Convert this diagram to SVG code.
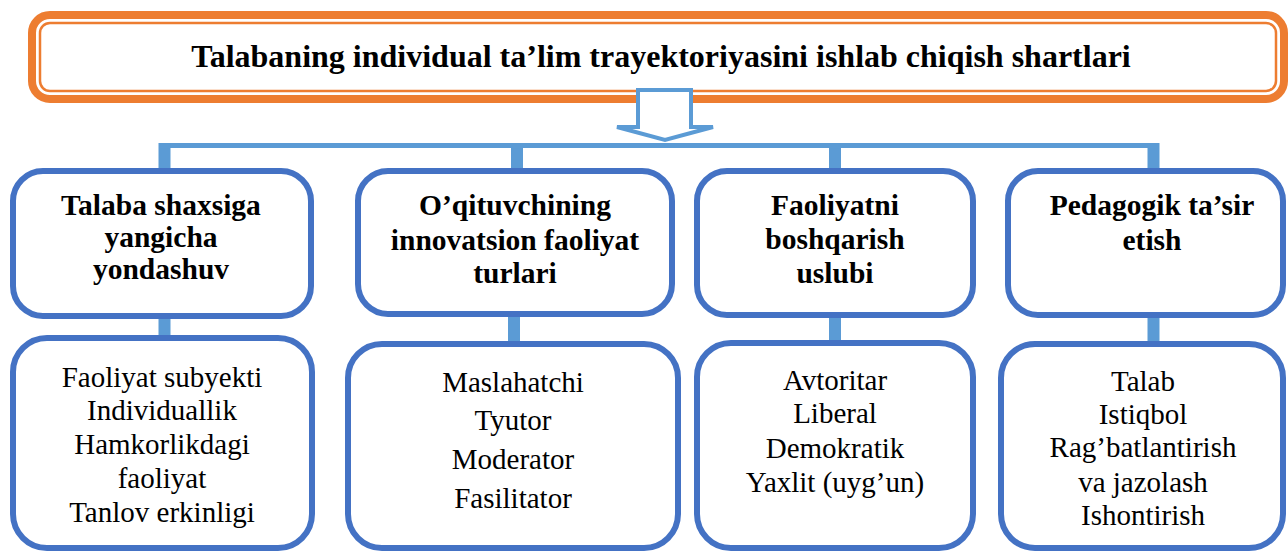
<svg xmlns="http://www.w3.org/2000/svg" width="1288" height="551" viewBox="0 0 1288 551">
<style>
.box{fill:#fff;stroke:#4472C4;stroke-width:6}
.h{font-family:"Liberation Serif","Times New Roman",serif;font-weight:bold;font-size:29.5px;text-anchor:middle;fill:#000}
.t{font-family:"Liberation Serif","Times New Roman",serif;font-size:29px;text-anchor:middle;fill:#000}
.c{stroke:#5B9BD5;fill:none}
</style>
<rect width="1288" height="551" fill="#fff"/>
<g id="title">
<rect x="32" y="15" width="1252" height="84" rx="18" fill="#fff" stroke="#ED7D31" stroke-width="8"/>
<rect x="40" y="23" width="1236" height="68" rx="10" fill="none" stroke="#ED7D31" stroke-width="2.5"/>
<text x="661" y="67" class="h" style="font-size:32px">Talabaning individual ta’lim trayektoriyasini ishlab chiqish shartlari</text>
</g>
<g id="connectors">
<path d="M638,90 H691 V127 H713 L665,140 L617,127 H638 Z" fill="#fff" stroke="#5B9BD5" stroke-width="4" stroke-linejoin="miter"/>
<path class="c" d="M164,145.5 H1153.5" stroke-width="5"/>
<path class="c" d="M164.5,143 V171 M517,143 V171 M835,143 V171 M1153.5,143 V171" stroke-width="12"/>
<path class="c" d="M164.5,316 V340 M514,314 V346 M835,315 V345 M1153.5,315 V346" stroke-width="12"/>
</g>
<g id="n1">
<rect class="box" x="13" y="171" width="298" height="145" rx="30"/>
<text class="h" x="161" y="215">Talaba shaxsiga</text>
<text class="h" x="161" y="247">yangicha</text>
<text class="h" x="161" y="279">yondashuv</text>
</g>
<g id="n2">
<rect class="box" x="358" y="171" width="314" height="143" rx="30"/>
<text class="h" x="515" y="215">O’qituvchining</text>
<text class="h" x="515" y="250">innovatsion faoliyat</text>
<text class="h" x="515" y="283">turlari</text>
</g>
<g id="n3">
<rect class="box" x="697" y="171" width="276" height="144" rx="30"/>
<text class="h" x="835" y="215">Faoliyatni</text>
<text class="h" x="835" y="249">boshqarish</text>
<text class="h" x="835" y="283">uslubi</text>
</g>
<g id="n4">
<rect class="box" x="1008" y="171" width="275" height="144" rx="30"/>
<text class="h" x="1152" y="215">Pedagogik ta’sir</text>
<text class="h" x="1152" y="250">etish</text>
</g>
<g id="n1b">
<rect class="box" x="13" y="338" width="299" height="210" rx="34"/>
<text class="t" x="162" y="387">Faoliyat subyekti</text>
<text class="t" x="162" y="420">Individuallik</text>
<text class="t" x="162" y="454">Hamkorlikdagi</text>
<text class="t" x="162" y="488">faoliyat</text>
<text class="t" x="162" y="522">Tanlov erkinligi</text>
</g>
<g id="n2b">
<rect class="box" x="348" y="344" width="330" height="204" rx="34"/>
<text class="t" x="513" y="392">Maslahatchi</text>
<text class="t" x="513" y="430">Tyutor</text>
<text class="t" x="513" y="469">Moderator</text>
<text class="t" x="513" y="508">Fasilitator</text>
</g>
<g id="n3b">
<rect class="box" x="697" y="343" width="276" height="205" rx="34"/>
<text class="t" x="835" y="390">Avtoritar</text>
<text class="t" x="835" y="423">Liberal</text>
<text class="t" x="835" y="458">Demokratik</text>
<text class="t" x="835" y="492">Yaxlit (uyg’un)</text>
</g>
<g id="n4b">
<rect class="box" x="1001" y="344" width="282" height="204" rx="34"/>
<text class="t" x="1143" y="391">Talab</text>
<text class="t" x="1143" y="424">Istiqbol</text>
<text class="t" x="1143" y="457">Rag’batlantirish</text>
<text class="t" x="1143" y="492">va jazolash</text>
<text class="t" x="1143" y="525">Ishontirish</text>
</g>
</svg>
